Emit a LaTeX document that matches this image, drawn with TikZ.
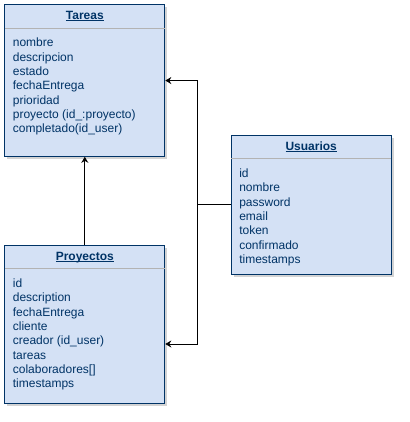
\documentclass[tikz,border=0pt]{standalone}
\usepackage{fontspec}
\setmainfont{Liberation Sans}
\usetikzlibrary{arrows.meta,positioning,calc,shadows}
\definecolor{azul}{RGB}{0,51,102}
\definecolor{celeste}{RGB}{212,225,245}
\definecolor{divgris}{RGB}{179,179,179}
\newcommand{\subrayado}[1]{\setbox0\hbox{#1}\rlap{\rule[-1.6pt]{\wd0}{0.8pt}}\box0}

\begin{document}
\begin{tikzpicture}[x=1pt,y=-1pt,
	tabla/.style={draw=azul,fill=celeste,line width=1pt,minimum width=160pt,inner sep=0pt,anchor=north west,
		drop shadow={shadow xshift=2.5pt,shadow yshift=-2.5pt,opacity=0.35}},
	titulo/.style={anchor=base,text=azul,font=\fontsize{12}{14}\selectfont\bfseries,inner sep=0pt},
	campos/.style={anchor=north west,text=azul,align=left,font=\fontsize{12}{14.33}\selectfont,inner sep=0pt},
	divisor/.style={draw=divgris,line width=1pt},
	flecha/.style={-{Stealth[length=6pt,width=7pt]},line width=1pt}]
	\useasboundingbox (0,0) rectangle (409,422);
	% tablas
	\node[tabla,minimum height=151.5pt] (tareas) at (4.3,4.3) {};
	\node[tabla,minimum height=158pt] (proyectos) at (4.3,244.7) {};
	\node[tabla,minimum height=139.3pt] (usuarios) at (230.7,134.7) {};
	% titulos
	\node[titulo] (tareasT) at ($(tareas.north)+(0,15.3)$) {\subrayado{Tareas}};
	\node[titulo] (proyectosT) at ($(proyectos.north)+(0,15.3)$) {\subrayado{Proyectos}};
	\node[titulo] (usuariosT) at ($(usuarios.north)+(0,15.3)$) {\subrayado{Usuarios}};
	\draw[divisor] ($(tareas.north west)+(0.5,24)$) -- ($(tareas.north east)+(-0.5,24)$);
	\draw[divisor] ($(proyectos.north west)+(0.5,24)$) -- ($(proyectos.north east)+(-0.5,24)$);
	\draw[divisor] ($(usuarios.north west)+(0.5,24)$) -- ($(usuarios.north east)+(-0.5,24)$);
	% campos
	\node[campos] (tareasC) at ($(tareas.north west)+(8.4,33.8)$) {nombre\\descripcion\\estado\\fechaEntrega\\prioridad\\proyecto (id\_:proyecto)\\completado(id\_user)};
	\node[campos] (proyectosC) at ($(proyectos.north west)+(8.4,33.8)$) {id\\description\\fechaEntrega\\cliente\\creador (id\_user)\\tareas\\colaboradores[]\\timestamps};
	\node[campos] (usuariosC) at ($(usuarios.north west)+(8.4,33.8)$) {id\\nombre\\password\\email\\token\\confirmado\\timestamps};
	% relaciones
	\coordinate (bus) at ($(usuarios.west)+(-33.4,0)$);
	\coordinate (llegada) at ($(proyectos.north east)+(0,99.3)$);
	\draw[flecha] (proyectos.north) -- (tareas.south);
	\draw[flecha] (usuarios.west) -- (bus) |- (tareas.east);
	\draw[flecha] (bus) |- (llegada);
\end{tikzpicture}
\end{document}
